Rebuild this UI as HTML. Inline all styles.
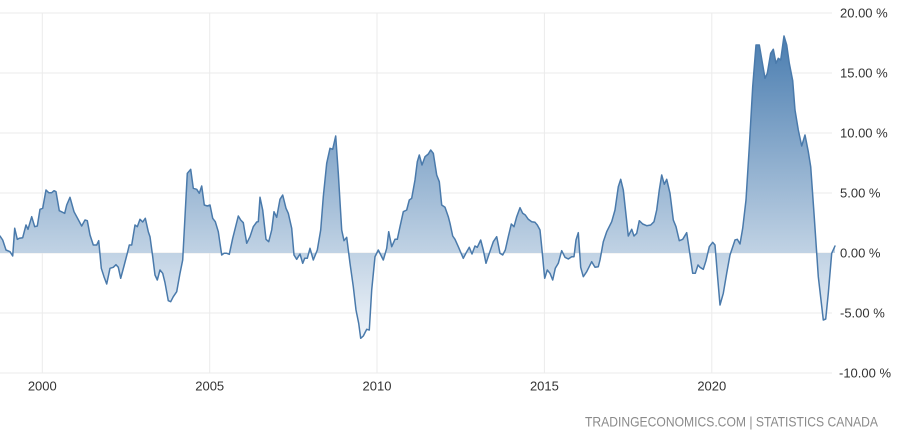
<!DOCTYPE html>
<html><head><meta charset="utf-8"><style>
html,body{margin:0;padding:0;background:#fff;}
svg{display:block;}
text{font-family:"Liberation Sans",sans-serif;}
</style></head><body>
<svg width="900" height="431" viewBox="0 0 900 431" xmlns="http://www.w3.org/2000/svg">
<defs>
<linearGradient id="g" gradientUnits="userSpaceOnUse" x1="0" y1="36" x2="0" y2="345">
<stop offset="0" stop-color="#4a7db0"/>
<stop offset="0.7" stop-color="#c0d2e4"/>
<stop offset="1" stop-color="#f4f7fb"/>
</linearGradient>
</defs>
<g stroke="#ebebeb" stroke-width="1">
<line x1="0" y1="13" x2="832" y2="13"/>
<line x1="0" y1="73" x2="832" y2="73"/>
<line x1="0" y1="133" x2="832" y2="133"/>
<line x1="0" y1="193" x2="832" y2="193"/>
<line x1="0" y1="253" x2="832" y2="253"/>
<line x1="0" y1="313" x2="832" y2="313"/>
<line x1="0" y1="373" x2="832" y2="373"/>
<line x1="42.3" y1="13" x2="42.3" y2="373"/>
<line x1="209.7" y1="13" x2="209.7" y2="373"/>
<line x1="377" y1="13" x2="377" y2="373"/>
<line x1="544.4" y1="13" x2="544.4" y2="373"/>
<line x1="711.8" y1="13" x2="711.8" y2="373"/>
</g>
<path id="area" fill="url(#g)" stroke="none" d="M0,253 L0,236 2.7,240 6,250 10,251.7 12.7,256 14.7,228.3 17.3,239.3 19.3,238.3 22.7,237.7 26,225 28,229.3 31.7,216.7 34.7,226.7 37.3,226 40,209.3 42.7,208.3 46,190 48.7,192.7 51.7,192.7 54,190.7 56,191.7 59.3,210.7 64.7,213.3 66.7,205 70,197.3 74,211.7 81.7,226 85,220 87.3,220.7 90,235 93.3,245 96.7,245 98.7,240.7 101.3,268.3 104,276.7 106.7,284 110,268.3 113.3,267.3 116,264.7 118.3,267.3 120.7,278.3 124,266 127.3,253.3 129.3,245 131.7,245 135,225 137.3,226.7 140,219.3 142.7,222 145.3,218.3 148.3,231.7 150,236.7 152.7,256.7 155,275 157.3,280 160,270 162.7,273.3 165,282.7 168.3,300.7 170.7,301.7 173.3,296.7 176.7,291.7 180,273.3 182.7,260 185,216.7 187.3,173.3 190.7,169.3 193.3,188.3 196.7,189.3 199.3,193.3 201.7,186 204.3,205 207.3,206 210,205 212.7,218.3 215.3,221.7 218.3,231.7 221.7,255 224,253.3 226.7,253.3 229.3,254.3 232.7,238.3 238.3,216 240.7,220 243.3,222.7 246.7,243.3 250,236.7 253.3,226.7 256.7,222 258.3,221.7 260,197.3 262.7,210 266,239.3 268.7,241.7 271.7,230 274,211.7 276.7,217.3 280,199.3 282.7,195 286,208.3 288.3,213.3 291.7,228.3 294,255 296.7,259.3 300,254 302.7,263.3 304.7,258.3 307.3,258.3 310,248.3 313.3,260 317.3,250 320.7,230 323.3,196.7 326.7,163.3 330,148.3 332.7,149.3 335.7,136 338.3,173.3 341.7,230 344,240.7 346.7,237.3 350,263.3 353.3,286.7 356,310 358.7,323.3 360.7,338.3 363.3,336 366.7,329.3 369.3,330 371.7,290 375,256.7 378.3,250 383.3,260 386.7,248.3 388.7,231.7 391.7,246.7 395,239.3 397.3,239.3 400,226.7 403.3,211.7 406.7,210 409.3,200 411.7,198.3 415,180 417.3,161.7 419.3,155 422,165 425,156.7 428.3,154 430.7,150 433.3,153.3 436.7,175 439.3,181.7 441.7,205 445,207.3 448.3,216.7 450,223.3 452.7,236 455,239.3 458.3,246.7 463.3,258.3 466.7,251.7 469.3,247.3 472,254 475,246 477.3,247.3 480.7,240 483.3,250 486,263.3 489.3,253.3 493.3,241.7 496.7,236.7 500,253.3 502.7,255 505.3,250 508.3,236.7 511.3,224 514,226.7 516.7,216.7 520,207.7 522.7,213.3 525.3,215 528.3,219.3 531.7,221.7 535,222.3 537.3,225 540,230 542,250 544.7,278.3 547.3,270 550,273.3 552.7,280 555.3,268.3 558.3,263.3 561.7,250.7 565,257.3 568.3,259 571.7,256.7 574,256.7 576,240 578.3,232.7 580.7,267.3 583.3,276.7 586.7,271.7 591.7,261.7 595,267.3 598.3,266.7 600,260 603.3,241.7 606.7,231.7 611.7,221.7 615,210 618.3,186.7 620.7,179.3 623.3,190 628.3,236 631.7,229.3 634,236 636.7,233.3 639.3,220.7 642.7,224 646.7,225.7 650.7,225 654,221.7 656.7,210 659.3,190 661.7,175 664.3,184.3 666.7,179.3 670,193.3 673.3,220 676,226.7 679.3,240.7 682.7,239.3 686.7,232.7 689.3,250 692.7,273.3 695.3,273.3 698,265 700,267.3 703.3,269.3 706,260.7 709.3,246.7 712.7,242.3 715,245 717.3,273.3 720,305 723.3,293.3 726.7,273.3 730,255 735,240 737.3,239.3 740,244 742.7,228.3 746,200 749.3,146.7 752.7,86.7 756,45 759.3,45 765,78.3 767.3,73.3 770.7,53.3 773.3,49.3 776,63.3 778.3,58.3 780.7,60 784,36 786.7,45 789.3,63.3 792.7,80.7 795,110 798.3,130 801.7,146 805,135 808.3,151.7 810.7,166.7 814,213.3 818.3,276.7 823.3,320 825.7,319 828.3,293.3 831.7,253.3 835,246 L835,253 Z"/>
<polyline fill="none" stroke="#4a7aab" stroke-width="1.5" stroke-linejoin="round" stroke-linecap="round" points="0,236 2.7,240 6,250 10,251.7 12.7,256 14.7,228.3 17.3,239.3 19.3,238.3 22.7,237.7 26,225 28,229.3 31.7,216.7 34.7,226.7 37.3,226 40,209.3 42.7,208.3 46,190 48.7,192.7 51.7,192.7 54,190.7 56,191.7 59.3,210.7 64.7,213.3 66.7,205 70,197.3 74,211.7 81.7,226 85,220 87.3,220.7 90,235 93.3,245 96.7,245 98.7,240.7 101.3,268.3 104,276.7 106.7,284 110,268.3 113.3,267.3 116,264.7 118.3,267.3 120.7,278.3 124,266 127.3,253.3 129.3,245 131.7,245 135,225 137.3,226.7 140,219.3 142.7,222 145.3,218.3 148.3,231.7 150,236.7 152.7,256.7 155,275 157.3,280 160,270 162.7,273.3 165,282.7 168.3,300.7 170.7,301.7 173.3,296.7 176.7,291.7 180,273.3 182.7,260 185,216.7 187.3,173.3 190.7,169.3 193.3,188.3 196.7,189.3 199.3,193.3 201.7,186 204.3,205 207.3,206 210,205 212.7,218.3 215.3,221.7 218.3,231.7 221.7,255 224,253.3 226.7,253.3 229.3,254.3 232.7,238.3 238.3,216 240.7,220 243.3,222.7 246.7,243.3 250,236.7 253.3,226.7 256.7,222 258.3,221.7 260,197.3 262.7,210 266,239.3 268.7,241.7 271.7,230 274,211.7 276.7,217.3 280,199.3 282.7,195 286,208.3 288.3,213.3 291.7,228.3 294,255 296.7,259.3 300,254 302.7,263.3 304.7,258.3 307.3,258.3 310,248.3 313.3,260 317.3,250 320.7,230 323.3,196.7 326.7,163.3 330,148.3 332.7,149.3 335.7,136 338.3,173.3 341.7,230 344,240.7 346.7,237.3 350,263.3 353.3,286.7 356,310 358.7,323.3 360.7,338.3 363.3,336 366.7,329.3 369.3,330 371.7,290 375,256.7 378.3,250 383.3,260 386.7,248.3 388.7,231.7 391.7,246.7 395,239.3 397.3,239.3 400,226.7 403.3,211.7 406.7,210 409.3,200 411.7,198.3 415,180 417.3,161.7 419.3,155 422,165 425,156.7 428.3,154 430.7,150 433.3,153.3 436.7,175 439.3,181.7 441.7,205 445,207.3 448.3,216.7 450,223.3 452.7,236 455,239.3 458.3,246.7 463.3,258.3 466.7,251.7 469.3,247.3 472,254 475,246 477.3,247.3 480.7,240 483.3,250 486,263.3 489.3,253.3 493.3,241.7 496.7,236.7 500,253.3 502.7,255 505.3,250 508.3,236.7 511.3,224 514,226.7 516.7,216.7 520,207.7 522.7,213.3 525.3,215 528.3,219.3 531.7,221.7 535,222.3 537.3,225 540,230 542,250 544.7,278.3 547.3,270 550,273.3 552.7,280 555.3,268.3 558.3,263.3 561.7,250.7 565,257.3 568.3,259 571.7,256.7 574,256.7 576,240 578.3,232.7 580.7,267.3 583.3,276.7 586.7,271.7 591.7,261.7 595,267.3 598.3,266.7 600,260 603.3,241.7 606.7,231.7 611.7,221.7 615,210 618.3,186.7 620.7,179.3 623.3,190 628.3,236 631.7,229.3 634,236 636.7,233.3 639.3,220.7 642.7,224 646.7,225.7 650.7,225 654,221.7 656.7,210 659.3,190 661.7,175 664.3,184.3 666.7,179.3 670,193.3 673.3,220 676,226.7 679.3,240.7 682.7,239.3 686.7,232.7 689.3,250 692.7,273.3 695.3,273.3 698,265 700,267.3 703.3,269.3 706,260.7 709.3,246.7 712.7,242.3 715,245 717.3,273.3 720,305 723.3,293.3 726.7,273.3 730,255 735,240 737.3,239.3 740,244 742.7,228.3 746,200 749.3,146.7 752.7,86.7 756,45 759.3,45 765,78.3 767.3,73.3 770.7,53.3 773.3,49.3 776,63.3 778.3,58.3 780.7,60 784,36 786.7,45 789.3,63.3 792.7,80.7 795,110 798.3,130 801.7,146 805,135 808.3,151.7 810.7,166.7 814,213.3 818.3,276.7 823.3,320 825.7,319 828.3,293.3 831.7,253.3 835,246"/>
<g font-size="13" fill="#333">
<text x="840" y="17.5">20.00 %</text>
<text x="840" y="77.5">15.00 %</text>
<text x="840" y="137.5">10.00 %</text>
<text x="840" y="197.5">5.00 %</text>
<text x="840" y="257.5">0.00 %</text>
<text x="840" y="317.5">-5.00 %</text>
<text x="839" y="377.5">-10.00 %</text>
</g>
<g font-size="13" fill="#333" text-anchor="middle">
<text x="42.3" y="390.5">2000</text>
<text x="209.7" y="390.5">2005</text>
<text x="377" y="390.5">2010</text>
<text x="544.4" y="390.5">2015</text>
<text x="711.8" y="390.5">2020</text>
</g>
<text x="585" y="426.5" font-size="14" fill="#8a8a8a" textLength="293" lengthAdjust="spacingAndGlyphs">TRADINGECONOMICS.COM | STATISTICS CANADA</text>
</svg>
</body></html>
